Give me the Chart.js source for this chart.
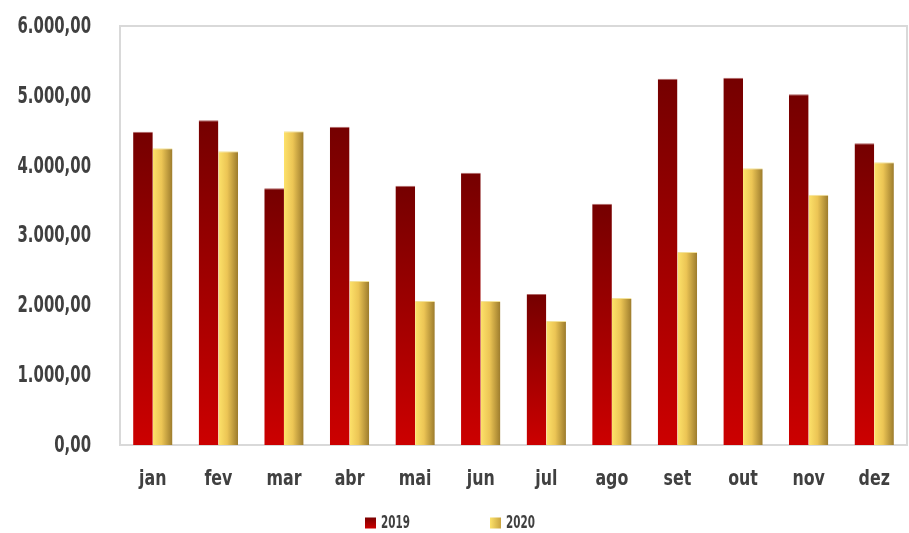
<!DOCTYPE html>
<html><head><meta charset="utf-8">
<script src="https://cdn.jsdelivr.net/npm/chart.js@4.4.1/dist/chart.umd.min.js"></script>
<style>html,body{margin:0;padding:0;background:#fff}#wrap{width:909px;height:533px}</style>
</head><body>
<div id="wrap"><canvas id="c" width="909" height="533"></canvas></div>
<script>
const categories = ['jan','fev','mar','abr','mai','jun','jul','ago','set','out','nov','dez'];
const series2019 = [4484, 4652, 3678, 4556, 3711, 3897, 2163, 3453, 5244, 5258, 5024, 4322];
const series2020 = [4250, 4208, 4494, 2350, 2063, 2063, 1777, 2106, 2765, 3964, 3582, 4050];
const seriesLabels = ['2019', '2020'];
const yTicks = [0, 1000, 2000, 3000, 4000, 5000, 6000];

const FONT = "'DejaVu Sans Condensed', 'DejaVu Sans', sans-serif";
const TEXT = '#404040';

function fmt(v){
  const s = Math.round(v).toString().replace(/\B(?=(\d{3})+(?!\d))/g, '.');
  return s + ',00';
}
function grad2019(ctx){
  const chart = ctx.chart;
  if(!chart.chartArea || ctx.type !== 'data') return '#a00000';
  const y = chart.scales.y;
  const top = y.getPixelForValue(ctx.raw), bot = y.getPixelForValue(0);
  const g = chart.ctx.createLinearGradient(0, top, 0, bot);
  g.addColorStop(0, '#750000');
  g.addColorStop(1, '#cc0000');
  return g;
}
function grad2020(ctx){
  const chart = ctx.chart;
  if(!chart.chartArea || ctx.type !== 'data') return '#e8c050';
  const x = chart.scales.x;
  const c = x.getPixelForValue(ctx.dataIndex);
  const w = (x.right - x.left) / categories.length * 0.6 / 2;
  const g = chart.ctx.createLinearGradient(c, 0, c + w, 0);
  g.addColorStop(0, '#fde26a');
  g.addColorStop(0.45, '#ecc555');
  g.addColorStop(1, '#9c7b2c');
  return g;
}

// draw condensed text (horizontal squeeze) — real canvas text
function squeezeText(ctx, text, x, y, sx, align){
  ctx.save();
  ctx.textAlign = align;
  ctx.textBaseline = 'middle';
  ctx.scale(sx, 1);
  ctx.fillText(text, x / sx, y);
  ctx.restore();
}

const plotBorder = {
  id: 'plotBorder',
  beforeDatasetsDraw(chart){
    const {ctx, chartArea: a} = chart;
    ctx.save();
    ctx.strokeStyle = '#d9d9d9';
    ctx.lineWidth = 2;
    ctx.strokeRect(a.left, a.top, a.right - a.left, a.bottom - a.top);
    ctx.restore();
  }
};

const axisLabels = {
  id: 'axisLabels',
  afterDraw(chart){
    const ctx = chart.ctx;
    const xs = chart.scales.x, ys = chart.scales.y;
    ctx.save();
    ctx.fillStyle = TEXT;
    ctx.font = 'bold 23px ' + FONT;
    ys.ticks.forEach(t => {
      squeezeText(ctx, fmt(t.value), xs.left - 29, ys.getPixelForValue(t.value) + 1, 0.72, 'right');
    });
    ctx.font = 'bold 22px ' + FONT;
    categories.forEach((c, i) => {
      squeezeText(ctx, c, xs.getPixelForValue(i), ys.bottom + 34, 0.8, 'center');
    });
    ctx.restore();
  }
};

const customLegend = {
  id: 'customLegend',
  afterDraw(chart){
    const ctx = chart.ctx;
    const box = 11, gapBox = 5, sx = 0.64;
    const starts = [365, 490];
    const yc = 523;
    ctx.save();
    ctx.font = 'bold 18px ' + FONT;
    chart.data.datasets.forEach((d, i) => {
      const x = starts[i];
      let g;
      if(i === 0){
        g = ctx.createLinearGradient(0, yc - box/2, 0, yc + box/2);
        g.addColorStop(0, '#7a0000'); g.addColorStop(1, '#cc0000');
      } else {
        g = ctx.createLinearGradient(x, 0, x + box, 0);
        g.addColorStop(0, '#fde26a'); g.addColorStop(1, '#c9a440');
      }
      ctx.fillStyle = g;
      ctx.fillRect(x, yc - box/2, box, box);
      ctx.fillStyle = TEXT;
      squeezeText(ctx, d.label, x + box + gapBox, yc, sx, 'left');
    });
    ctx.restore();
  }
};

new Chart(document.getElementById('c'), {
  type: 'bar',
  data: {
    labels: categories,
    datasets: [
      { label: seriesLabels[0], data: series2019, backgroundColor: grad2019,
        borderColor: '#b06464', borderWidth: {top: 1, left: 0, right: 0, bottom: 0}, borderSkipped: 'start' },
      { label: seriesLabels[1], data: series2020, backgroundColor: grad2020,
        borderColor: '#f3e29a', borderWidth: {top: 1, left: 0, right: 0, bottom: 0}, borderSkipped: 'start' }
    ]
  },
  options: {
    responsive: false,
    animation: false,
    layout: { padding: { top: 26, right: 2, left: 0, bottom: 0 } },
    datasets: { bar: { categoryPercentage: 0.6, barPercentage: 1.0 } },
    plugins: { legend: { display: false }, tooltip: { enabled: false } },
    scales: {
      x: {
        grid: { display: false, drawTicks: false },
        border: { display: false },
        ticks: { display: false },
        afterFit(s){ s.height = 88; }
      },
      y: {
        min: 0, max: 6000,
        afterBuildTicks(s){ s.ticks = yTicks.map(v => ({ value: v })); },
        grid: { display: false, drawTicks: false },
        border: { display: false },
        ticks: { display: false },
        afterFit(s){ s.width = 120; }
      }
    }
  },
  plugins: [plotBorder, axisLabels, customLegend]
});
</script>
</body></html>
